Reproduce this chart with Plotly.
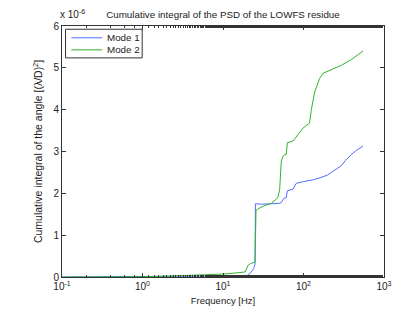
import plotly.graph_objects as go

# Frequencies [Hz] and cumulative integrals (units of 1e-6 (lambda/D)^2)
freq_mode1 = [0.1, 1, 2, 5, 10, 15, 20.4, 22, 24, 25.0, 25.3, 30, 40, 50, 53, 55.6, 57, 61.1, 63, 74.1, 78, 81.4, 100, 130, 160, 200, 221, 260, 295, 330, 393, 450, 548]
mode1 = [0.0, 0.005, 0.01, 0.02, 0.025, 0.03, 0.04, 0.1, 0.2, 0.3, 1.75, 1.74, 1.75, 1.76, 1.78, 1.86, 1.88, 1.9, 2.06, 2.1, 2.18, 2.24, 2.28, 2.32, 2.37, 2.44, 2.5, 2.58, 2.66, 2.78, 2.93, 3.02, 3.13]

freq_mode2 = [0.1, 0.5, 1, 2, 5, 10, 15, 18.8, 20.5, 22, 25.0, 25.7, 28, 33.0, 40, 43.9, 48.2, 50.6, 53.0, 55.6, 58, 61.1, 63, 74.1, 81.4, 90, 98.6, 119, 125, 138, 159, 175, 221, 295, 393, 548]
mode2 = [0.0, 0.0, 0.005, 0.02, 0.04, 0.07, 0.1, 0.12, 0.28, 0.32, 0.36, 1.59, 1.64, 1.71, 1.76, 1.82, 1.9, 2.1, 2.77, 2.89, 2.92, 2.93, 3.21, 3.25, 3.36, 3.45, 3.56, 3.68, 4.0, 4.43, 4.75, 4.87, 4.95, 5.06, 5.2, 5.40]

series_names = ["Mode 1", "Mode 2"]
series_colors = ["#4f6cff", "#33b22a"]

x_tickvals = [0.1, 1, 10, 100, 1000]
x_ticktext = ["10<sup>-1</sup>", "10<sup>0</sup>", "10<sup>1</sup>", "10<sup>2</sup>", "10<sup>3</sup>"]
y_tickvals = [0, 1, 2, 3, 4, 5, 6]

font = "Liberation Sans, Arial, sans-serif"

fig = go.Figure()
for fx, fy, name, col in zip([freq_mode1, freq_mode2], [mode1, mode2], series_names, series_colors):
    fig.add_trace(go.Scatter(x=fx, y=fy, mode="lines", name=name,
                             line=dict(color=col, width=1), showlegend=False))

axis_common = dict(showline=True, linecolor="#333", linewidth=1, mirror="ticks",
                   ticks="inside", tickcolor="#333", ticklen=4, showgrid=False,
                   zeroline=False, tickfont=dict(family=font, size=10, color="#222"))

fig.update_layout(
    width=415, height=312,
    margin=dict(l=54, r=39, t=16, b=43),
    paper_bgcolor="white", plot_bgcolor="white",
    font=dict(family=font, size=10, color="#222"),
    title=dict(text="Cumulative integral of the PSD of the LOWFS residue",
               x=0.518, xanchor="center", y=0.978, yanchor="middle",
               font=dict(family=font, size=9.8, color="#222")),
    xaxis=dict(type="log", range=[-1, 3], tickvals=x_tickvals, ticktext=x_ticktext,
               title=dict(text="Frequency [Hz]", font=dict(family=font, size=9.5), standoff=6),
               minor=dict(ticks="inside", ticklen=2, tickcolor="#333"),
               **axis_common),
    yaxis=dict(range=[0, 6], tickvals=y_tickvals,
               title=dict(text="Cumulative integral of the angle [(λ/D)<sup>2</sup>]",
                          font=dict(family=font, size=10.5), standoff=8),
               **axis_common),
    showlegend=False,
)

# Legend drawn as a box with sample lines and labels (paper coordinates)
fig.add_shape(type="rect", xref="paper", yref="paper", x0=0.011, x1=0.249, y0=0.873, y1=0.987,
              line=dict(color="#333", width=1), fillcolor="white", layer="above")
legend_rows = [0.953, 0.905]
for yy, name, col in zip(legend_rows, series_names, series_colors):
    fig.add_shape(type="line", xref="paper", yref="paper", x0=0.029, x1=0.125, y0=yy, y1=yy,
                  line=dict(color=col, width=1), layer="above")
    fig.add_annotation(text=name, xref="paper", yref="paper", x=0.135, y=yy,
                       xanchor="left", yanchor="middle", showarrow=False,
                       font=dict(family=font, size=9.8, color="#222"))

fig.add_annotation(text="x 10<sup>-6</sup>", xref="paper", yref="paper",
                   x=0.0, y=1.0, xanchor="left", yanchor="bottom", yshift=4, xshift=-4,
                   showarrow=False, font=dict(family=font, size=10, color="#222"))

fig.write_html("out.html")
